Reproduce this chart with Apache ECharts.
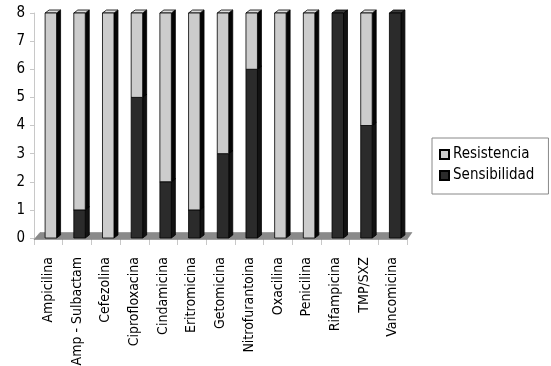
<!DOCTYPE html>
<html>
<head>
<meta charset="utf-8">
<script src="https://cdn.jsdelivr.net/npm/echarts@6/dist/echarts.min.js"></script>
<style>
  html, body { margin: 0; padding: 0; background: #fff; }
  #chart { width: 551px; height: 366px; }
</style>
</head>
<body>
<div id="chart"></div>
<script>
// categorias (antibioticos)
const categories = ['Ampicilina', 'Amp - Sulbactam', 'Cefezolina', 'Ciprofloxacina', 'Cindamicina',
    'Eritromicina', 'Getomicina', 'Nitrofurantoina', 'Oxacilina', 'Penicilina',
    'Rifampicina', 'TMP/SXZ', 'Vancomicina'];
const sensibilidad = [0, 1, 0, 5, 2, 1, 3, 6, 0, 0, 8, 4, 8];
const resistencia = [8, 7, 8, 3, 6, 7, 5, 2, 8, 8, 0, 4, 0];
const yTicks = [0, 1, 2, 3, 4, 5, 6, 7, 8];

const FONT = 'DejaVu Sans Condensed';

// barra "3D": cara frontal + lado + tapa
function bar3d(front, side, top) {
    return function (params, api) {
        const i = api.value(0);
        const p0 = api.coord([i, api.value(1)]);
        const p1 = api.coord([i, api.value(2)]);
        if (p0[1] - p1[1] < 0.5) return;
        const bw = api.size([1, 0])[0] * 0.4;
        const x = p0[0] - bw / 2 + 2.5;
        const dx = 4, dy = 3;
        const st = { stroke: '#000', lineWidth: 0.8 };
        return {
            type: 'group',
            children: [
                { type: 'polygon', shape: { points: [[x + bw, p1[1]], [x + bw + dx, p1[1] - dy], [x + bw + dx, p0[1] - dy], [x + bw, p0[1]]] },
                  style: Object.assign({ fill: side }, st) },
                { type: 'polygon', shape: { points: [[x, p1[1]], [x + dx, p1[1] - dy], [x + bw + dx, p1[1] - dy], [x + bw, p1[1]]] },
                  style: Object.assign({ fill: top }, st) },
                { type: 'rect', shape: { x: x, y: p1[1], width: bw, height: p0[1] - p1[1] },
                  style: Object.assign({ fill: front }, st) }
            ]
        };
    };
}

// piso gris
function floor(params, api) {
    const w = api.size([1, 0])[0];
    const a = api.coord([0, 0]);
    const b = api.coord([categories.length - 1, 0]);
    const l = a[0] - w / 2, r = b[0] + w / 2, y = a[1] + 1.5;
    return {
        type: 'polygon',
        shape: { points: [[l, y], [l + 6, y - 7], [r + 5, y - 7], [r, y]] },
        style: { fill: '#8a8a8a', stroke: '#7a7a7a', lineWidth: 0.5 }
    };
}

const chart = echarts.init(document.getElementById('chart'));
chart.setOption({
    animation: false,
    textStyle: { fontFamily: FONT },
    grid: { left: 34, right: 144, top: 13, bottom: 128, containLabel: false, outerBoundsMode: 'none' },
    legend: {
        data: ['Resistencia', 'Sensibilidad'],
        orient: 'vertical',
        left: 432, top: 138,
        padding: [9, 14, 11, 7],
        itemGap: 6,
        itemWidth: 9, itemHeight: 9,
        icon: 'rect',
        borderColor: '#888', borderWidth: 1,
        textStyle: { fontFamily: FONT, fontSize: 15, color: '#000', padding: [0, 0, 0, -1] }
    },
    xAxis: {
        type: 'category',
        data: categories,
        boundaryGap: true,
        axisLine: { show: true, lineStyle: { color: '#c8c8c8' } },
        axisTick: { show: true, length: 7, lineStyle: { color: '#c8c8c8' } },
        axisLabel: { rotate: 90, margin: 19, fontSize: 14, color: '#000', fontFamily: FONT,
            interval: 0, padding: [4, 0, 0, 0] }
    },
    yAxis: {
        type: 'value',
        min: yTicks[0], max: yTicks[yTicks.length - 1], interval: 1,
        splitLine: { show: false },
        axisLine: { show: true, lineStyle: { color: '#c8c8c8' } },
        axisTick: { show: true, length: 4, lineStyle: { color: '#c8c8c8' } },
        axisLabel: { margin: 9, fontSize: 15, color: '#000', fontFamily: FONT }
    },
    series: [
        {
            name: 'floor', type: 'custom', silent: true,
            renderItem: floor, data: [[0]], z: 1
        },
        {
            name: 'Sensibilidad', type: 'custom',
            itemStyle: { color: '#2b2b2b', borderColor: '#000', borderWidth: 1 },
            renderItem: bar3d('#2b2b2b', '#121212', '#3a3a3a'),
            encode: { x: 0, y: 2 },
            data: sensibilidad.map((v, i) => [i, 0, v]), z: 2
        },
        {
            name: 'Resistencia', type: 'custom',
            itemStyle: { color: '#cccccc', borderColor: '#000', borderWidth: 1 },
            renderItem: bar3d('#cccccc', '#050505', '#dcdcdc'),
            encode: { x: 0, y: 2 },
            data: resistencia.map((v, i) => [i, sensibilidad[i], sensibilidad[i] + v]), z: 3
        }
    ]
});
</script>
</body>
</html>
